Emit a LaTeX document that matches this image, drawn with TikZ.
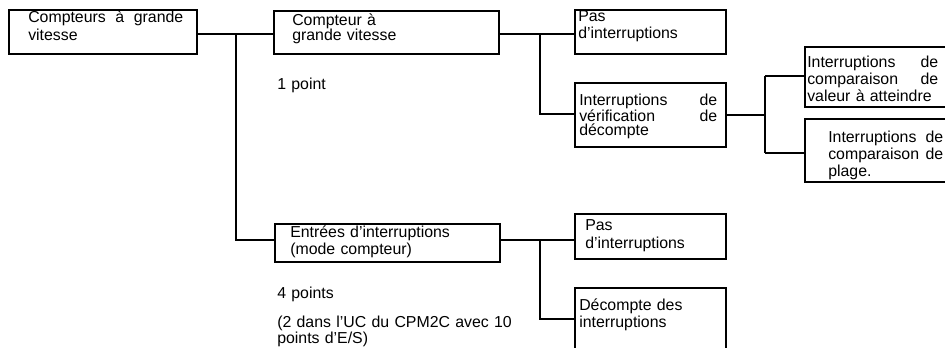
\documentclass[tikz,border=0pt]{standalone}
\usepackage{fontspec}
\setmainfont{Liberation Sans}
\usetikzlibrary{fit}
\newcommand{\jline}[1]{\makebox[\hsize][s]{\spaceskip=.278em plus 1fil\relax #1}}
\begin{document}
\begin{tikzpicture}[x=0.75pt,y=-0.75pt,
  box/.style={draw, line width=0.9pt, inner sep=0pt},
  conn/.style={draw, line width=0.8pt},
  txt/.style={inner sep=0pt, anchor=base west, align=left, text width=250pt},
  ls/.style={font=\fontsize{11.9}{#1}\selectfont},
]
\useasboundingbox (0,0) rectangle (945,347);
\clip (0,0) rectangle (945,347);
% boxes
\node[box, fit={(9,10)(197,54)}] (A) {};
\node[box, fit={(274,11)(499,54)}] (B) {};
\node[box, fit={(575,10)(726,54)}] (C) {};
\node[box, fit={(575,83)(726,147)}] (D) {};
\node[box, fit={(805,47)(960,107)}] (E) {};
\node[box, fit={(805,119)(960,182)}] (F) {};
\node[box, fit={(275,224)(500,262)}] (G) {};
\node[box, fit={(575,214)(726,259)}] (I) {};
\node[box, fit={(575,288)(726,360)}] (H) {};
% texts
\node[txt, ls=13.5pt, text width=116.25pt] (At) at (28,22) {\jline{Compteurs à grande}\\vitesse};
\node[txt, ls=11.6pt] (Bt) at (292,25) {Compteur à\\grande vitesse};
\node[txt, ls=12.75pt] (Bp) at (277,89) {1 point};
\node[txt, ls=12.75pt] (Ct) at (578,21) {Pas\\d’interruptions};
\node[txt, ls=10.9pt, text width=103.5pt] (Dt) at (579,105) {\jline{Interruptions de}\\\jline{vérification de}\\décompte};
\node[txt, ls=12.75pt, text width=98.25pt] (Et) at (807,67) {\jline{Interruptions de}\\\jline{comparaison de}\\valeur à atteindre};
\node[txt, ls=12.75pt, text width=86.25pt] (Ft) at (828,142) {\jline{Interruptions de}\\\jline{comparaison de}\\plage.};
\node[txt, ls=12.75pt] (Gt) at (290,237) {Entrées d’interruptions\\(mode compteur)};
\node[txt, ls=13.5pt] (It) at (585,230) {Pas\\d’interruptions};
\node[txt, ls=12.75pt] (Ht) at (579,310) {Décompte des\\interruptions};
\node[txt, ls=12.75pt] (P4) at (277,298) {4 points};
\node[txt, ls=12.4pt] (Pn) at (277,327) {(2 dans l’UC du CPM2C avec 10\\points d’E/S)};
% junction coordinates
\coordinate (j1) at (236,34);
\coordinate (jG) at (236,240);
\coordinate (j2) at (540,34);
\coordinate (d1) at (540,114);
\coordinate (j3) at (765,115);
\coordinate (e1) at (765,76);
\coordinate (f1) at (765,153);
\coordinate (j4) at (540,240);
\coordinate (h1) at (540,319);
% connectors
\draw[conn] (A.east |- j1) -- (B.west |- j1);
\draw[conn] (j1) -- (jG) -- (G.west |- jG);
\draw[conn] (B.east |- j2) -- (C.west |- j2);
\draw[conn] (j2) -- (d1) -- (D.west |- d1);
\draw[conn] (D.east |- j3) -- (j3);
\draw[conn] (e1) -- (f1);
\draw[conn] (e1) -- (E.west |- e1);
\draw[conn] (f1) -- (F.west |- f1);
\draw[conn] (G.east |- j4) -- (I.west |- j4);
\draw[conn] (j4) -- (h1) -- (H.west |- h1);
\end{tikzpicture}
\end{document}
